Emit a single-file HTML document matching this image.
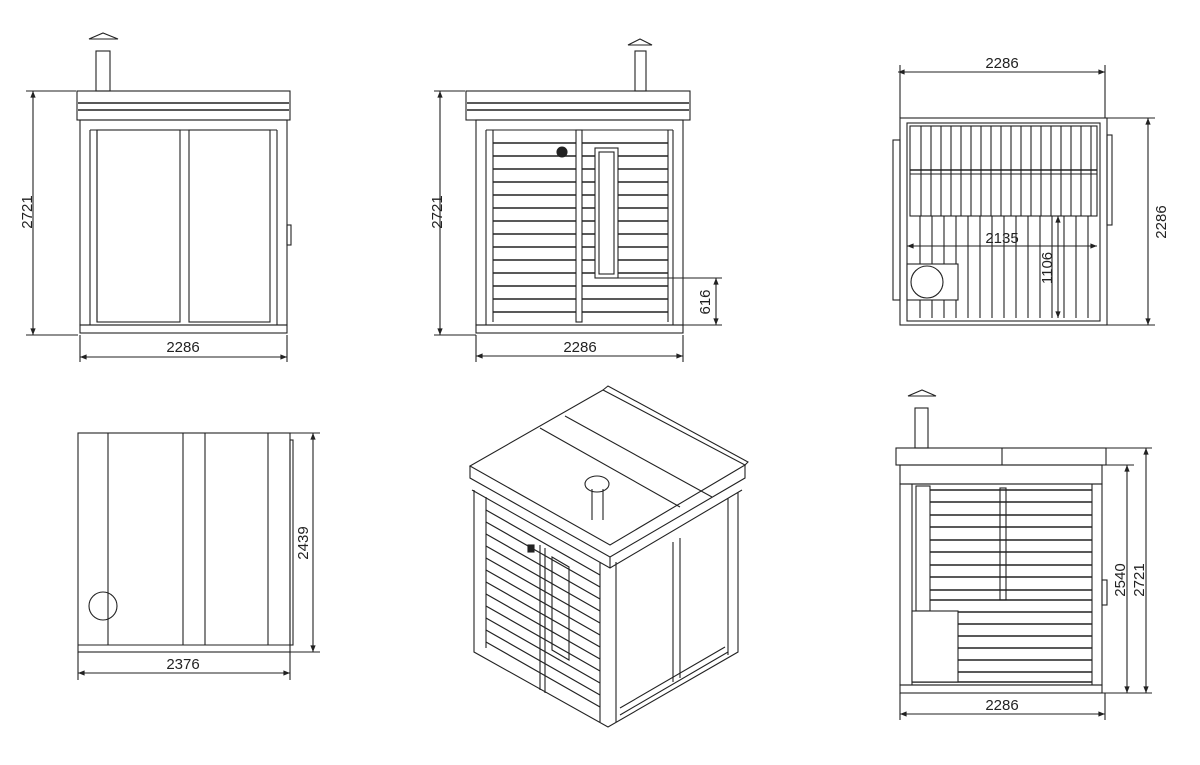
<!DOCTYPE html>
<html><head><meta charset="utf-8"><style>
html,body{margin:0;padding:0;background:#fff;}
svg{display:block}
text{font-family:"Liberation Sans",sans-serif;font-size:15px;fill:#222;text-anchor:middle}
</style></head><body>
<svg width="1200" height="765" viewBox="0 0 1200 765" xmlns="http://www.w3.org/2000/svg">
<defs>
<marker id="a" viewBox="0 0 10 10" refX="10" refY="5" markerWidth="9" markerHeight="6" orient="auto-start-reverse"><path d="M0,1 L10,5 L0,9z" fill="#222"/></marker>
</defs>
<g fill="none" stroke="#222" stroke-width="1.1">

<!-- VIEW 1 -->
<path d="M89,39 L103,33 L118,39z"/>
<rect x="96" y="51" width="14" height="40"/>
<rect x="77" y="91" width="213" height="29"/>
<line x1="78" y1="103" x2="289" y2="103" stroke-width="1.6"/>
<line x1="78" y1="110" x2="289" y2="110" stroke-width="1.6"/>
<rect x="80" y="120" width="207" height="205"/>
<line x1="90" y1="130" x2="90" y2="325"/>
<line x1="97" y1="130" x2="97" y2="322"/>
<rect x="97" y="130" width="83" height="192"/>
<rect x="189" y="130" width="81" height="192"/>
<line x1="277" y1="130" x2="277" y2="325"/>
<line x1="90" y1="130" x2="277" y2="130"/>
<rect x="80" y="325" width="207" height="8"/>
<rect x="287" y="225" width="4" height="20"/>
<line x1="33" y1="91" x2="33" y2="335" marker-start="url(#a)" marker-end="url(#a)"/>
<line x1="26" y1="91" x2="76" y2="91"/><line x1="26" y1="335" x2="78" y2="335"/>
<line x1="80" y1="335" x2="80" y2="362"/><line x1="287" y1="335" x2="287" y2="362"/>
<line x1="80" y1="357" x2="287" y2="357" marker-start="url(#a)" marker-end="url(#a)"/>

<!-- VIEW 2 -->
<path d="M628,45 L640,39 L652,45z"/>
<rect x="635" y="51" width="11" height="40"/>
<rect x="466" y="91" width="224" height="29"/>
<line x1="467" y1="103" x2="689" y2="103" stroke-width="1.6"/>
<line x1="467" y1="110" x2="689" y2="110" stroke-width="1.6"/>
<rect x="476" y="120" width="207" height="205"/>
<line x1="486" y1="130" x2="486" y2="325"/><line x1="673" y1="130" x2="673" y2="325"/>
<line x1="486" y1="130" x2="673" y2="130"/>
<g stroke-width="1.4">
<path d="M493,143H576M493,156H576M493,169H576M493,182H576M493,195H576M493,208H576M493,221H576M493,234H576M493,247H576M493,260H576M493,273H576M493,286H576M493,299H576M493,312H576"/>
<path d="M582,143H668M582,156H595M618,156H668M582,169H595M618,169H668M582,182H595M618,182H668M582,195H595M618,195H668M582,208H595M618,208H668M582,221H595M618,221H668M582,234H595M618,234H668M582,247H595M618,247H668M582,260H595M618,260H668M582,273H595M618,273H668M582,286H668M582,299H668M582,312H668"/>
</g>
<line x1="493" y1="130" x2="493" y2="322"/><line x1="668" y1="130" x2="668" y2="322"/>
<rect x="576" y="130" width="6" height="192"/>
<rect x="595" y="148" width="23" height="130"/><rect x="599" y="152" width="15" height="122"/>
<circle cx="562" cy="152" r="5" fill="#222"/>
<rect x="476" y="325" width="207" height="8"/>
<line x1="440" y1="91" x2="440" y2="335" marker-start="url(#a)" marker-end="url(#a)"/>
<line x1="434" y1="91" x2="465" y2="91"/><line x1="434" y1="335" x2="476" y2="335"/>
<line x1="476" y1="335" x2="476" y2="362"/><line x1="683" y1="335" x2="683" y2="362"/>
<line x1="476" y1="356" x2="683" y2="356" marker-start="url(#a)" marker-end="url(#a)"/>
<line x1="618" y1="278" x2="722" y2="278"/><line x1="683" y1="325" x2="722" y2="325"/>
<line x1="716" y1="278" x2="716" y2="325" marker-start="url(#a)" marker-end="url(#a)"/>

<!-- VIEW 3 top -->
<rect x="900" y="118" width="207" height="207"/>
<rect x="907" y="123" width="193" height="198"/>
<rect x="910" y="126" width="187" height="90"/>
<line x1="910" y1="170" x2="1097" y2="170" stroke-width="1.6"/>
<line x1="910" y1="174" x2="1097" y2="174"/>
<path d="M921,126V216M931,126V216M941,126V216M951,126V216M961,126V216M971,126V216M981,126V216M991,126V216M1001,126V216M1011,126V216M1021,126V216M1031,126V216M1041,126V216M1051,126V216M1061,126V216M1071,126V216M1081,126V216M1091,126V216"/>
<path d="M920,216V318M932,216V318M944,216V318M956,216V318M968,216V318M980,216V318M992,216V318M1004,216V318M1016,216V318M1028,216V318M1040,216V318M1052,216V318M1064,216V318M1076,216V318M1088,216V318"/>
<rect x="907" y="264" width="51" height="36" fill="#fff"/>
<circle cx="927" cy="282" r="16" fill="#fff"/>
<rect x="893" y="140" width="7" height="160"/><rect x="1107" y="135" width="5" height="90"/>
<line x1="898" y1="72" x2="1105" y2="72" marker-start="url(#a)" marker-end="url(#a)"/>
<line x1="900" y1="65" x2="900" y2="118"/><line x1="1105" y1="65" x2="1105" y2="118"/>
<line x1="1148" y1="118" x2="1148" y2="325" marker-start="url(#a)" marker-end="url(#a)"/>
<line x1="1107" y1="118" x2="1155" y2="118"/><line x1="1107" y1="325" x2="1155" y2="325"/>
<line x1="907" y1="246" x2="1097" y2="246" marker-start="url(#a)" marker-end="url(#a)"/>
<line x1="1058" y1="216" x2="1058" y2="318" marker-start="url(#a)" marker-end="url(#a)"/>

<!-- VIEW 4 side -->
<rect x="78" y="433" width="212" height="219"/>
<line x1="108" y1="433" x2="108" y2="645"/>
<line x1="183" y1="433" x2="183" y2="645"/><line x1="205" y1="433" x2="205" y2="645"/>
<line x1="268" y1="433" x2="268" y2="645"/>
<line x1="78" y1="645" x2="290" y2="645"/>
<rect x="290" y="440" width="3" height="205"/>
<circle cx="103" cy="606" r="14"/>
<line x1="290" y1="433" x2="320" y2="433"/><line x1="290" y1="652" x2="320" y2="652"/>
<line x1="313" y1="433" x2="313" y2="652" marker-start="url(#a)" marker-end="url(#a)"/>
<line x1="78" y1="652" x2="78" y2="680"/><line x1="290" y1="652" x2="290" y2="680"/>
<line x1="78" y1="673" x2="290" y2="673" marker-start="url(#a)" marker-end="url(#a)"/>

<!-- VIEW 5 iso -->
<path d="M603,390 L745,465 L610,545 L470,466z"/>
<path d="M470,466 L470,478 L610,557 L745,478 L745,465"/>
<path d="M472,490 L610,568 L742,490"/>
<path d="M610,557 L610,568"/>
<path d="M540,428 L680,507 M565,416 L712,497"/>
<path d="M603,390 L608,386 L748,462 L745,465"/>
<path d="M474,490 L474,652 L608,727 L738,652 L738,492"/>
<path d="M486,497 L486,648 M600,562 L600,722 M616,562 L616,722 M728,498 L728,655"/>
<path d="M620,715 L728,652 M620,708 L725,647"/>
<path d="M673,542 L673,682 M680,538 L680,678"/>
<path d="M540,545 L540,690 M545,548 L545,693"/>
<path d="M552,557 L569,567 L569,660 L552,650z"/>
<g stroke-width="1.2">
<path d="M486,510L600,575M486,522L600,587M486,534L600,599M486,546L600,611M486,558L600,623M486,570L600,635M486,582L600,647M486,594L600,659M486,606L600,671M486,618L600,683M486,630L600,695M486,642L600,707"/>
</g>
<ellipse cx="597" cy="484" rx="12" ry="8" fill="#fff"/>
<path d="M592,489 L592,520 M603,489 L603,520"/>
<rect x="528" y="545" width="6" height="7" fill="#222"/>

<!-- VIEW 6 -->
<path d="M908,396 L922,390 L936,396z"/>
<rect x="915" y="408" width="13" height="40"/>
<rect x="896" y="448" width="210" height="17"/>
<line x1="1002" y1="448" x2="1002" y2="465"/>
<rect x="900" y="465" width="202" height="19"/>
<rect x="900" y="484" width="202" height="201"/>
<line x1="912" y1="484" x2="912" y2="685"/><line x1="1092" y1="484" x2="1092" y2="685"/>
<rect x="916" y="486" width="14" height="125"/>
<rect x="1000" y="488" width="6" height="112"/>
<g stroke-width="1.4">
<path d="M930,490H1092M930,502H1092M930,515H1092M930,527H1092M930,540H1092M930,552H1092M930,565H1092M930,577H1092M930,590H1092M930,600H1092"/>
<path d="M958,612H1092M958,624H1092M958,636H1092M958,648H1092M958,660H1092M958,672H1092M912,682H1092"/>
</g>
<rect x="912" y="611" width="46" height="71" fill="#fff"/>
<rect x="900" y="685" width="202" height="8"/>
<rect x="1102" y="580" width="5" height="25"/>
<line x1="1106" y1="448" x2="1152" y2="448"/><line x1="1102" y1="465" x2="1134" y2="465"/>
<line x1="1102" y1="693" x2="1152" y2="693"/>
<line x1="1127" y1="465" x2="1127" y2="693" marker-start="url(#a)" marker-end="url(#a)"/>
<line x1="1146" y1="448" x2="1146" y2="693" marker-start="url(#a)" marker-end="url(#a)"/>
<line x1="900" y1="693" x2="900" y2="720"/><line x1="1105" y1="693" x2="1105" y2="720"/>
<line x1="900" y1="714" x2="1105" y2="714" marker-start="url(#a)" marker-end="url(#a)"/>
</g>

<g stroke="none">
<text x="183" y="352">2286</text>
<text transform="translate(32,212) rotate(-90)">2721</text>
<text x="580" y="352">2286</text>
<text transform="translate(442,212) rotate(-90)">2721</text>
<text transform="translate(710,302) rotate(-90)">616</text>
<text x="1002" y="68">2286</text>
<text transform="translate(1166,222) rotate(-90)">2286</text>
<text x="1002" y="243">2135</text>
<text transform="translate(1052,268) rotate(-90)">1106</text>
<text transform="translate(308,543) rotate(-90)">2439</text>
<text x="183" y="669">2376</text>
<text transform="translate(1125,580) rotate(-90)">2540</text>
<text transform="translate(1144,580) rotate(-90)">2721</text>
<text x="1002" y="710">2286</text>
</g>
</svg>
</body></html>
